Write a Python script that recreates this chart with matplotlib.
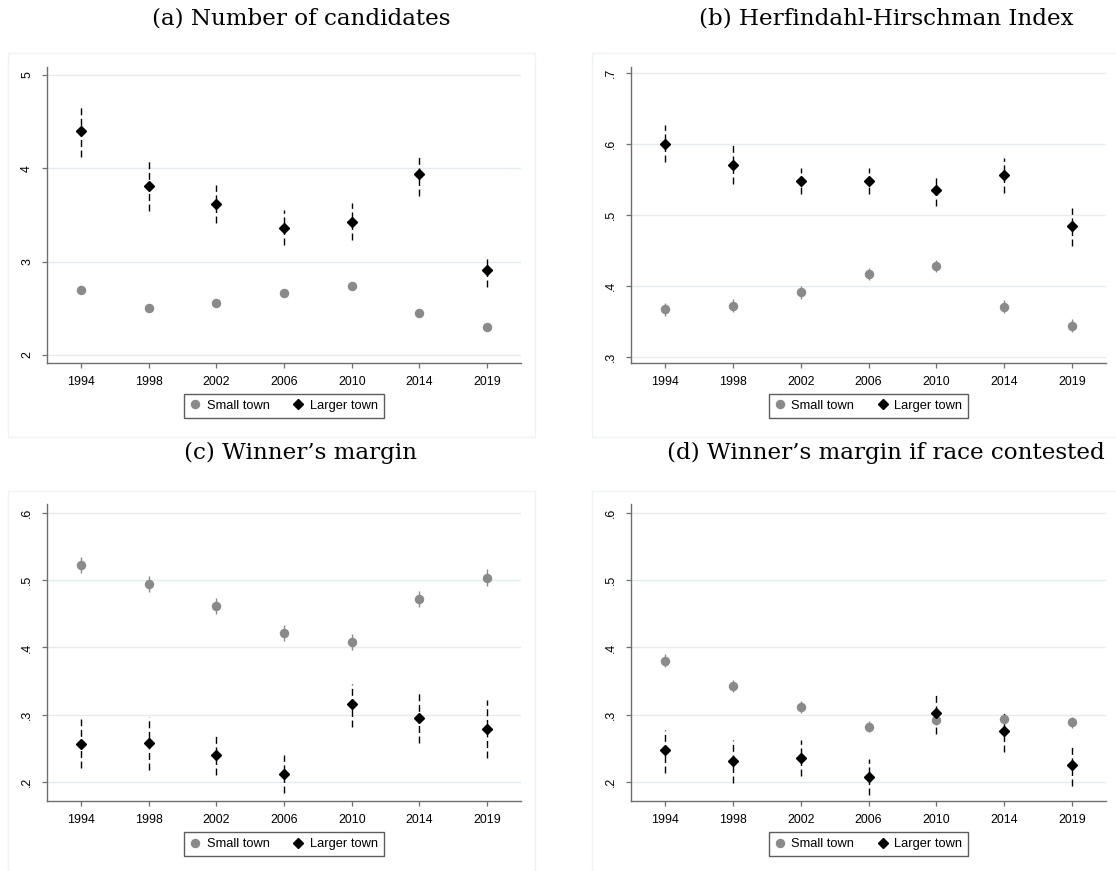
import numpy as np
import matplotlib
from matplotlib import pyplot as plt
from matplotlib.patches import Rectangle
from matplotlib.lines import Line2D

years = ['1994', '1998', '2002', '2006', '2010', '2014', '2019']

# (a) Number of candidates
cand_small = [2.70, 2.506, 2.56, 2.66, 2.742, 2.453, 2.303]
cand_small_lo = [2.67, 2.48, 2.535, 2.635, 2.715, 2.43, 2.28]
cand_small_hi = [2.73, 2.53, 2.585, 2.685, 2.77, 2.475, 2.325]
cand_large = [4.40, 3.814, 3.614, 3.364, 3.43, 3.943, 2.914]
cand_large_lo = [4.125, 3.545, 3.41, 3.175, 3.23, 3.70, 2.73]
cand_large_hi = [4.667, 4.08, 3.82, 3.553, 3.625, 4.153, 3.06]

# (b) Herfindahl-Hirschman Index
hhi_small = [0.367, 0.372, 0.391, 0.417, 0.428, 0.371, 0.344]
hhi_small_lo = [0.358, 0.363, 0.382, 0.408, 0.419, 0.362, 0.335]
hhi_small_hi = [0.376, 0.381, 0.400, 0.426, 0.437, 0.380, 0.353]
hhi_large = [0.600, 0.570, 0.548, 0.548, 0.535, 0.556, 0.484]
hhi_large_lo = [0.575, 0.544, 0.529, 0.530, 0.512, 0.531, 0.457]
hhi_large_hi = [0.627, 0.599, 0.566, 0.566, 0.556, 0.581, 0.510]

# (c) Winner's margin
marg_small = [0.523, 0.494, 0.462, 0.422, 0.408, 0.472, 0.504]
marg_small_lo = [0.511, 0.482, 0.450, 0.410, 0.396, 0.460, 0.492]
marg_small_hi = [0.535, 0.506, 0.474, 0.434, 0.420, 0.484, 0.516]
marg_large = [0.257, 0.2575, 0.240, 0.2124, 0.316, 0.295, 0.279]
marg_large_lo = [0.221, 0.218, 0.211, 0.184, 0.282, 0.258, 0.235]
marg_large_hi = [0.293, 0.297, 0.269, 0.240, 0.345, 0.332, 0.322]

# (d) Winner's margin if race contested
cont_small = [0.3805, 0.343, 0.3115, 0.282, 0.2925, 0.293, 0.2885]
cont_small_lo = [0.371, 0.334, 0.303, 0.274, 0.284, 0.285, 0.280]
cont_small_hi = [0.390, 0.352, 0.320, 0.290, 0.301, 0.301, 0.297]
cont_large = [0.247, 0.2315, 0.235, 0.2075, 0.3025, 0.2755, 0.2255]
cont_large_lo = [0.214, 0.199, 0.2085, 0.181, 0.2715, 0.2445, 0.1945]
cont_large_hi = [0.277, 0.262, 0.262, 0.234, 0.3335, 0.307, 0.2565]

W, H = 1116, 871
GRID = '#E3ECEE'
GRAY = '#8A8A8A'
SPINE = '#6E6E6E'


def px_axes(fig, left, right, top, bottom):
  return fig.add_axes([left / W, 1 - bottom / H, (right - left) / W, (bottom - top) / H])


def panel(ax, small, s_lo, s_hi, large, l_lo, l_hi, yticks, ylabels, ylim):
  x = np.arange(len(years))
  ax.vlines(x, s_lo, s_hi, color=GRAY, lw=1.0, zorder=2)
  ax.plot(x, small, 'o', color=GRAY, ms=5.8, mec=GRAY, zorder=3)
  ax.vlines(x, l_lo, l_hi, color='black', lw=1.0, linestyles=(0, (5, 2.6)), zorder=2)
  ax.plot(x, large, 'D', color='black', ms=5.3, zorder=4)
  ax.set_xlim(-0.5, 6.5)
  ax.set_ylim(*ylim)
  ax.set_xticks(x)
  ax.set_xticklabels(years)
  ax.set_yticks(yticks)
  ax.set_yticklabels(ylabels, rotation=90, va='center')
  ax.grid(axis='y', color=GRID, lw=1.0, zorder=0)
  ax.set_axisbelow(True)
  for s in ['top', 'right']:
    ax.spines[s].set_visible(False)
  for s in ['left', 'bottom']:
    ax.spines[s].set_color(SPINE)
    ax.spines[s].set_linewidth(1.0)
  ax.tick_params(length=3.5, width=0.9, color=SPINE, labelsize=8.9)
  ax.tick_params(axis='x', pad=5.5)
  ax.tick_params(axis='y', pad=6.5)
  handles = [
    Line2D([], [], ls='none', marker='o', color=GRAY, ms=5.8),
    Line2D([], [], ls='none', marker='D', color='black', ms=5.3),
  ]
  leg = ax.legend(handles, ['Small town', 'Larger town'], loc='upper center',
                  bbox_to_anchor=(0.5, -0.105), ncol=2, frameon=True, fancybox=False,
                  fontsize=9.3, handlelength=0.8, handletextpad=0.5, columnspacing=1.8,
                  borderpad=0.45, borderaxespad=0)
  leg.get_frame().set_edgecolor('#333333')
  leg.get_frame().set_linewidth(1.0)


def main():
  plt.rcParams['font.family'] = ['Liberation Sans', 'DejaVu Sans']
  fig = plt.figure(figsize=(W / 100, H / 100), dpi=100)

  # light outlines around each graph region
  for (x0, x1, y0, y1) in [(8, 535, 53, 437), (592, 1122, 53, 437),
                           (8, 535, 491, 877), (592, 1122, 491, 877)]:
    fig.patches.append(Rectangle((x0 / W, 1 - y1 / H), (x1 - x0) / W, (y1 - y0) / H,
                                 transform=fig.transFigure, fill=False,
                                 edgecolor='#EEF3F4', lw=1.0))

  titles = [('(a) Number of candidates', 301, 19), ('(b) Herfindahl-Hirschman Index', 886, 19),
            ('(c) Winner\u2019s margin', 301, 453), ('(d) Winner\u2019s margin if race contested', 886, 453)]
  for t, cx, cy in titles:
    fig.text(cx / W, 1 - cy / H, t, ha='center', va='center', fontsize=16.6,
             family=['DejaVu Serif'])

  ax = px_axes(fig, 47, 521, 67, 363)
  panel(ax, cand_small, cand_small_lo, cand_small_hi, cand_large, cand_large_lo, cand_large_hi,
        [2, 3, 4, 5], ['2', '3', '4', '5'], (1.914, 5.086))

  ax = px_axes(fig, 631, 1106, 67, 363)
  panel(ax, hhi_small, hhi_small_lo, hhi_small_hi, hhi_large, hhi_large_lo, hhi_large_hi,
        [.3, .4, .5, .6, .7], ['.3', '.4', '.5', '.6', '.7'], (0.2914, 0.7086))

  ax = px_axes(fig, 47, 521, 504, 801)
  panel(ax, marg_small, marg_small_lo, marg_small_hi, marg_large, marg_large_lo, marg_large_hi,
        [.2, .3, .4, .5, .6], ['.2', '.3', '.4', '.5', '.6'], (0.1717, 0.6134))

  ax = px_axes(fig, 631, 1106, 504, 801)
  panel(ax, cont_small, cont_small_lo, cont_small_hi, cont_large, cont_large_lo, cont_large_hi,
        [.2, .3, .4, .5, .6], ['.2', '.3', '.4', '.5', '.6'], (0.1717, 0.6134))

  fig.savefig('out.png', dpi=100)


if __name__ == '__main__':
  main()
